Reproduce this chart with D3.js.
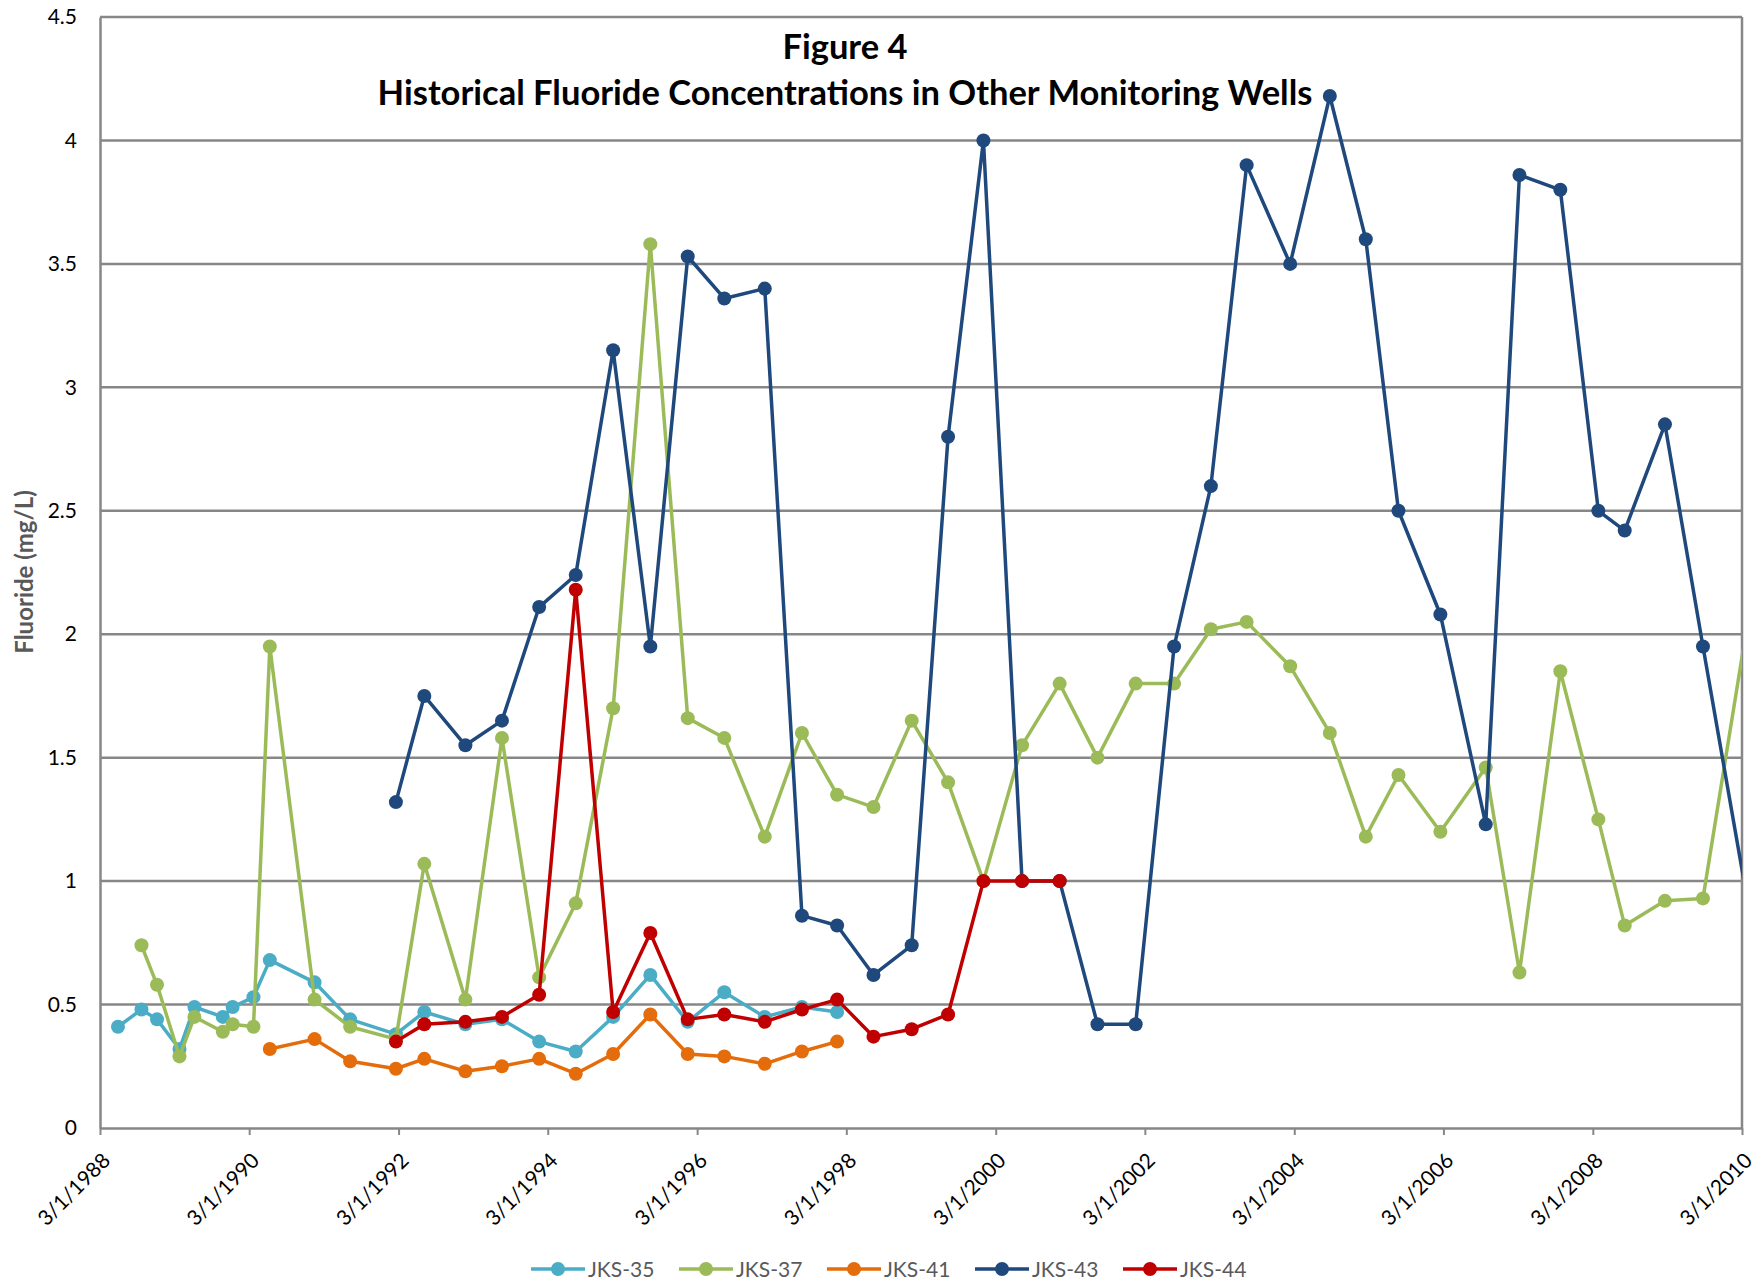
<!DOCTYPE html>
<html lang="en">
<head>
    <meta charset="UTF-8">
    <meta name="viewport" content="width=device-width, initial-scale=1.0">
    <script src="https://d3js.org/d3.v7.min.js"></script>
    <title>Figure 4 - Historical Fluoride Concentrations</title>
    <style>
        body { margin: 0; background: #fff; }
        figure { margin: 0; }
        svg { display: block; font-family: Lato, "Open Sans", sans-serif; }
    </style>
</head>
<body>
    <figure></figure>

    <script>
        // sampling dates, shared by every well
        const sampleDates = [
            "1988-05-28", "1988-09-20", "1988-12-05", "1989-03-25", "1989-06-06", "1989-10-23",
            "1989-12-10", "1990-03-22", "1990-06-10", "1991-01-15", "1991-07-08", "1992-02-17",
            "1992-07-05", "1993-01-22", "1993-07-20", "1994-01-18", "1994-07-16", "1995-01-15",
            "1995-07-16", "1996-01-15", "1996-07-12", "1997-01-26", "1997-07-27", "1998-01-15",
            "1998-07-12", "1999-01-15", "1999-07-12", "2000-01-01", "2000-07-08", "2001-01-08",
            "2001-07-12", "2002-01-15", "2002-07-22", "2003-01-18", "2003-07-12", "2004-02-10",
            "2004-08-22", "2005-02-14", "2005-07-24", "2006-02-14", "2006-09-24", "2007-03-08",
            "2007-09-24", "2008-03-28", "2008-08-04", "2009-02-17", "2009-08-22", "2010-03-15"
        ];

        // fluoride (mg/L) per well, null = not sampled
        const jks35 = [0.41, 0.48, 0.44, 0.32, 0.49, 0.45, 0.49, 0.53, 0.68, 0.59, 0.44, 0.38,
            0.47, 0.42, 0.44, 0.35, 0.31, 0.45, 0.62, 0.43, 0.55, 0.45, 0.49, 0.47,
            null, null, null, null, null, null, null, null, null, null, null, null,
            null, null, null, null, null, null, null, null, null, null, null, null];
        const jks37 = [null, 0.74, 0.58, 0.29, 0.45, 0.39, 0.42, 0.41, 1.95, 0.52, 0.41, 0.36,
            1.07, 0.52, 1.58, 0.61, 0.91, 1.70, 3.58, 1.66, 1.58, 1.18, 1.60, 1.35,
            1.30, 1.65, 1.40, 1.00, 1.55, 1.80, 1.50, 1.80, 1.80, 2.02, 2.05, 1.87,
            1.60, 1.18, 1.43, 1.20, 1.46, 0.63, 1.85, 1.25, 0.82, 0.92, 0.93, 1.98];
        const jks41 = [null, null, null, null, null, null, null, null, 0.32, 0.36, 0.27, 0.24,
            0.28, 0.23, 0.25, 0.28, 0.22, 0.30, 0.46, 0.30, 0.29, 0.26, 0.31, 0.35,
            null, null, null, null, null, null, null, null, null, null, null, null,
            null, null, null, null, null, null, null, null, null, null, null, null];
        const jks43 = [null, null, null, null, null, null, null, null, null, null, null, 1.32,
            1.75, 1.55, 1.65, 2.11, 2.24, 3.15, 1.95, 3.53, 3.36, 3.40, 0.86, 0.82,
            0.62, 0.74, 2.80, 4.00, 1.00, 1.00, 0.42, 0.42, 1.95, 2.60, 3.90, 3.50,
            4.18, 3.60, 2.50, 2.08, 1.23, 3.86, 3.80, 2.50, 2.42, 2.85, 1.95, 0.98];
        const jks44 = [null, null, null, null, null, null, null, null, null, null, null, 0.35,
            0.42, 0.43, 0.45, 0.54, 2.18, 0.47, 0.79, 0.44, 0.46, 0.43, 0.48, 0.52,
            0.37, 0.40, 0.46, 1.00, 1.00, 1.00, null, null, null, null, null, null,
            null, null, null, null, null, null, null, null, null, null, null, null];

        const wellNames = ["JKS-35", "JKS-37", "JKS-41", "JKS-43", "JKS-44"];
        const wellValues = [jks35, jks37, jks41, jks43, jks44];
        const wellColors = ["#4BACC6", "#9BBB59", "#E46C0A", "#1F497D", "#C00000"];

        // axis ticks
        const xTickDates = ["1988-03-01", "1990-03-01", "1992-03-01", "1994-03-01", "1996-03-01", "1998-03-01",
            "2000-03-01", "2002-03-01", "2004-03-01", "2006-03-01", "2008-03-01", "2010-03-01"];
        const yTicks = [0, 0.5, 1, 1.5, 2, 2.5, 3, 3.5, 4, 4.5];

        const w = 1760;
        const h = 1283;
        const plotLeft = 100, plotRight = 1742, plotTop = 17, plotBottom = 1128;
        const gridColor = "#878787";

        const parseTime = d3.timeParse("%Y-%m-%d");
        const fmt = d3.timeFormat("%-m/%-d/%Y");
        const dates = sampleDates.map(parseTime);
        const xTicks = xTickDates.map(parseTime);

        const xScale = d3.scaleTime()
            .domain([xTicks[0], xTicks[xTicks.length - 1]])
            .range([plotLeft, plotRight]);

        const yScale = d3.scaleLinear()
            .domain([0, 4.5])
            .range([plotBottom, plotTop]);

        const svg = d3.select("figure")
            .append("svg")
            .attr("width", w)
            .attr("height", h);

        svg.append("clipPath")
            .attr("id", "plot-clip")
            .append("rect")
            .attr("x", plotLeft)
            .attr("y", 0)
            .attr("width", plotRight - plotLeft)
            .attr("height", h);

        //gridlines
        svg.append("g")
            .selectAll("line")
            .data(yTicks.filter(d => d > 0))
            .enter()
            .append("line")
            .attr("x1", plotLeft)
            .attr("x2", plotRight)
            .attr("y1", d => yScale(d))
            .attr("y2", d => yScale(d))
            .attr("stroke", gridColor)
            .attr("stroke-width", 2.5);

        // right border
        svg.append("line")
            .attr("x1", plotRight).attr("x2", plotRight)
            .attr("y1", plotTop).attr("y2", plotBottom)
            .attr("stroke", gridColor)
            .attr("stroke-width", 2.5);

        //x-axis
        const xAxis = d3.axisBottom(xScale)
            .tickValues(xTicks)
            .tickFormat(fmt)
            .tickSize(7)
            .tickSizeOuter(0);

        const gx = svg.append("g")
            .attr("transform", "translate(0, " + plotBottom + ")")
            .call(xAxis);
        gx.select(".domain").attr("stroke", gridColor).attr("stroke-width", 2.5);
        gx.selectAll(".tick line").attr("stroke", gridColor).attr("stroke-width", 2);
        gx.selectAll(".tick text")
            .attr("x", 0).attr("y", 0).attr("dy", 0)
            .attr("text-anchor", "end")
            .attr("transform", "translate(11, 34) rotate(-45)")
            .attr("font-size", 21)
            .attr("font-family", "Lato")
            .attr("fill", "#000");

        //y-axis
        const yAxis = d3.axisLeft(yScale)
            .tickValues(yTicks)
            .tickFormat(d3.format("~g"))
            .tickSize(0)
            .tickPadding(23);

        const gy = svg.append("g")
            .attr("transform", "translate(" + plotLeft + ", 0)")
            .call(yAxis);
        gy.select(".domain").attr("stroke", gridColor).attr("stroke-width", 2.5);
        gy.selectAll(".tick text")
            .attr("font-size", 21)
            .attr("font-family", "Lato")
            .attr("fill", "#000");

        // y axis title
        svg.append("text")
            .attr("transform", "translate(33, 572) rotate(-90)")
            .attr("text-anchor", "middle")
            .attr("font-size", 24)
            .attr("font-weight", "bold")
            .attr("fill", "#595959")
            .text("Fluoride (mg/L)");

        // series
        const line = d3.line()
            .defined(d => d.v !== null)
            .x(d => xScale(d.date))
            .y(d => yScale(d.v));

        const plot = svg.append("g").attr("clip-path", "url(#plot-clip)");

        wellNames.forEach((name, i) => {
            const pts = dates.map((date, j) => ({ date: date, v: wellValues[i][j] }));
            const g = plot.append("g").attr("class", "well");

            g.append("path")
                .datum(pts)
                .attr("d", line)
                .attr("fill", "none")
                .attr("stroke", wellColors[i])
                .attr("stroke-width", 3.5)
                .attr("stroke-linejoin", "round");

            g.selectAll("circle")
                .data(pts.filter(d => d.v !== null && d.date <= xScale.domain()[1]))
                .enter()
                .append("circle")
                .attr("cx", d => xScale(d.date))
                .attr("cy", d => yScale(d.v))
                .attr("r", 7)
                .attr("fill", wellColors[i]);
        });

        // title
        const title = svg.append("g")
            .attr("font-weight", "bold")
            .attr("font-size", 34.5)
            .attr("text-anchor", "middle")
            .attr("fill", "#000");
        title.append("text").attr("x", 845).attr("y", 59).text("Figure 4");
        title.append("text").attr("x", 845).attr("y", 105).text("Historical Fluoride Concentrations in Other Monitoring Wells");

        // legend
        const legend = svg.append("g")
            .attr("transform", "translate(531, 1269)");

        const item = legend.selectAll("g")
            .data(wellNames)
            .enter()
            .append("g")
            .attr("transform", (d, i) => "translate(" + (i * 148) + ", 0)");

        item.append("line")
            .attr("x1", 0).attr("x2", 54)
            .attr("stroke", (d, i) => wellColors[i])
            .attr("stroke-width", 3.5);
        item.append("circle")
            .attr("cx", 27)
            .attr("r", 7)
            .attr("fill", (d, i) => wellColors[i]);
        item.append("text")
            .attr("x", 57)
            .attr("dy", "0.36em")
            .attr("font-size", 21)
            .attr("fill", "#595959")
            .text(d => d);
    </script>
</body>
</html>
